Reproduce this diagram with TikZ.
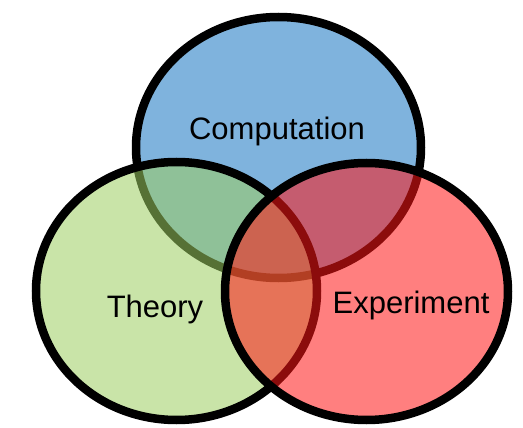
\documentclass[tikz,border=0pt]{standalone}
\usepackage{fontspec}
\setmainfont{Liberation Sans}
\usetikzlibrary{shapes.geometric}
\definecolor{compblue}{RGB}{127,179,221}
\definecolor{theorygreen}{RGB}{157,206,97}
\definecolor{exptred}{RGB}{255,22,22}
\tikzset{
  setcircle/.style={ellipse, draw=black, line width=8.5pt, inner sep=0pt},
  setlabel/.style={anchor=base, text=black, font=\fontsize{31}{36}\selectfont},
}
\begin{document}
\begin{tikzpicture}[x=1pt, y=-1pt]
  \useasboundingbox (0,0) rectangle (523,428);
  % three overlapping sets, later ones tinting the earlier ones
  \node[setcircle, fill=compblue, minimum width=285pt, minimum height=261pt] (comp) at (278.5,147.5) {};
  \node[setcircle, fill=theorygreen, fill opacity=0.55, minimum width=281pt, minimum height=258pt] (theory) at (176.5,291) {};
  \node[setcircle, fill=exptred, fill opacity=0.55, minimum width=283pt, minimum height=257pt] (expt) at (366.5,291.5) {};
  % set names
  \node[setlabel] (complabel) at (277,140) {Computation};
  \node[setlabel] (theorylabel) at (155,317) {Theory};
  \node[setlabel] (exptlabel) at (411,313) {Experiment};
\end{tikzpicture}
\end{document}
